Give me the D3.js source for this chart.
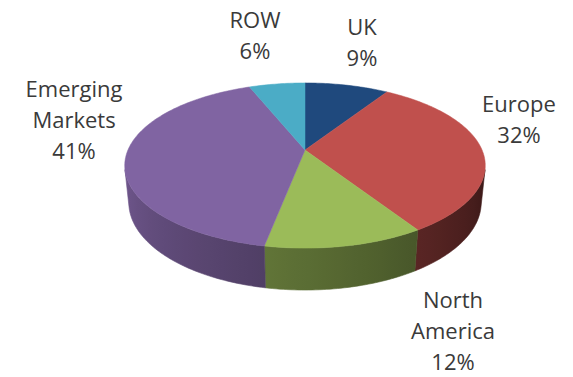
<!DOCTYPE html>
<html>
<head>
<meta charset="utf-8">
<script src="https://cdn.jsdelivr.net/npm/d3@7"></script>
<style>
  html, body { margin: 0; padding: 0; background: #ffffff; }
  svg { display: block; }
  text { font-family: "Open Sans", Lato, sans-serif; fill: #3a3a3a; }
</style>
</head>
<body>
<svg id="chart" width="573" height="377"></svg>
<script>
// Revenue split by region (percent of total)
const regions = ["UK", "Europe", "North America", "Emerging Markets", "ROW"];
const shares = [9, 32, 12, 41, 6];
const labelLines = [["UK"], ["Europe"], ["North", "America"], ["Emerging", "Markets"], ["ROW"]];
const colors = ["#1F497D", "#C0504D", "#9BBB59", "#8064A2", "#4BACC6"];

// Label anchors: centre x and first baseline
const labelAt = [[362, 35], [519, 112], [453, 308], [74, 97], [255, 28]];

const svg = d3.select("#chart");
const defs = svg.append("defs");

// Camera for the tilted disc
const cx = 305, cy = 150;
const sinT = 0.45, cosT = Math.sqrt(1 - sinT * sinT);
const dist = 4.75, focal = 841, thick = 0.235;

function project(a, y) {
  const x = Math.sin(a), z = Math.cos(a);
  const depth = dist + z * cosT - y * sinT;
  return [cx + focal * x / depth, cy - focal * (y * cosT + z * sinT) / depth];
}

const pie = d3.pie().sort(null).value(d => d).startAngle(0).endAngle(2 * Math.PI);
const arcs = pie(shares);

const sampleArc = (a0, a1) => {
  const n = Math.max(2, Math.ceil((a1 - a0) / (Math.PI / 180)));
  return d3.range(n + 1).map(i => a0 + (a1 - a0) * i / n);
};

const line = d3.line();

// Outer wall: only the part that faces the viewer
const halfVis = Math.acos(1 / (dist * cosT));
const visLo = Math.PI - halfVis, visHi = Math.PI + halfVis;

// Side lighting falls off from left to right
const shade = d3.scaleLinear()
  .domain([104 * Math.PI / 180, 256 * Math.PI / 180])
  .range([0.30, 0.87]);

const shadeColor = (base, a) => {
  const c = d3.rgb(base), k = shade(a);
  return d3.rgb(c.r * k, c.g * k, c.b * k).formatHex();
};

const walls = svg.append("g");
arcs.forEach((d, i) => {
  const a0 = Math.max(d.startAngle, visLo), a1 = Math.min(d.endAngle, visHi);
  if (a1 <= a0) return;
  const angles = sampleArc(a0, a1);
  const topPts = angles.map(a => project(a, 0));
  const botPts = angles.slice().reverse().map(a => project(a, -thick));

  const x0 = topPts[0][0], x1 = topPts[topPts.length - 1][0];
  const grad = defs.append("linearGradient")
    .attr("id", "wall" + i)
    .attr("gradientUnits", "userSpaceOnUse")
    .attr("x1", x0).attr("y1", 0).attr("x2", x1).attr("y2", 0);
  angles.filter((_, j, arr) => j % 4 === 0 || j === arr.length - 1).forEach(a => {
    grad.append("stop")
      .attr("offset", (project(a, 0)[0] - x0) / (x1 - x0))
      .attr("stop-color", shadeColor(colors[i], a));
  });

  walls.append("path")
    .attr("d", line(topPts.concat(botPts)) + "Z")
    .attr("fill", `url(#wall${i})`)
    .attr("stroke", `url(#wall${i})`)
    .attr("stroke-width", 0.6);
});

// Top faces
const tops = svg.append("g");
arcs.forEach((d, i) => {
  const pts = [[cx, cy]].concat(sampleArc(d.startAngle, d.endAngle).map(a => project(a, 0)));
  tops.append("path")
    .attr("d", line(pts) + "Z")
    .attr("fill", colors[i])
    .attr("stroke", colors[i])
    .attr("stroke-width", 0.5)
    .attr("stroke-linejoin", "round");
});

// Data labels
const fmt = v => v + "%";
const labels = svg.append("g").attr("font-size", 22);
arcs.forEach((d, i) => {
  const t = labels.append("text")
    .attr("text-anchor", "middle")
    .attr("x", labelAt[i][0])
    .attr("y", labelAt[i][1]);
  labelLines[i].concat([fmt(d.data)]).forEach((s, j) => {
    t.append("tspan")
      .attr("x", labelAt[i][0])
      .attr("dy", j === 0 ? 0 : 31)
      .text(s);
  });
});
</script>
</body>
</html>
